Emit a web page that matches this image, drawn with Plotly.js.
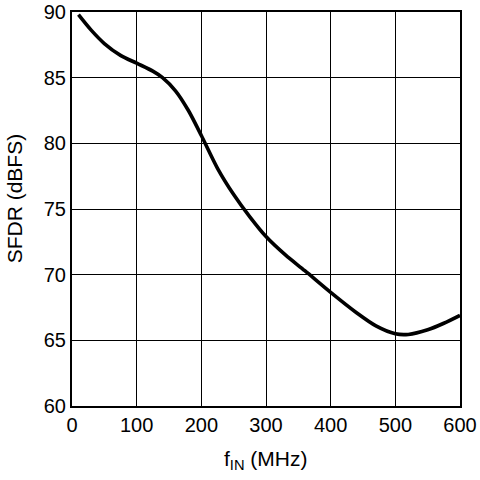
<!DOCTYPE html>
<html>
<head>
<meta charset="utf-8">
<script src="https://cdn.plot.ly/plotly-3.0.1.min.js"></script>
<style>html,body{margin:0;padding:0;background:#fff;}#chart{width:480px;height:480px;}</style>
</head>
<body>
<div id="chart"></div>
<script>
const freqMHz = [10, 30, 50, 75, 100, 125, 140, 160, 180, 200, 225, 250, 275, 300, 330, 360, 400, 440, 470, 500, 520, 550, 575, 600];
const sfdrDbfs = [89.8, 88.6, 87.6, 86.7, 86.1, 85.5, 85.0, 84.0, 82.5, 80.6, 78.1, 76.1, 74.4, 72.9, 71.5, 70.3, 68.65, 67.1, 66.1, 65.5, 65.45, 65.8, 66.3, 66.9];
const xTicks = [0, 100, 200, 300, 400, 500, 600];
const yTicks = [60, 65, 70, 75, 80, 85, 90];
const xTitle = 'f<sub>IN</sub> (MHz)';
const yTitle = 'SFDR (dBFS)';

const font = {family: 'Liberation Sans, Arial, sans-serif', size: 20, color: '#000'};
const titleFont = {family: 'Liberation Sans, Arial, sans-serif', size: 21, color: '#000'};

Plotly.newPlot('chart', [{
  x: freqMHz, y: sfdrDbfs, type: 'scatter', mode: 'lines',
  line: {color: '#000', width: 3.6, shape: 'spline', smoothing: 0.8}
}], {
  width: 480, height: 480,
  margin: {l: 72, r: 20, t: 12, b: 74},
  paper_bgcolor: '#fff', plot_bgcolor: '#fff',
  font: font,
  showlegend: false,
  xaxis: {
    range: [0, 600], tickvals: xTicks, ticktext: xTicks.map(String),
    showgrid: true, gridcolor: '#000', gridwidth: 1,
    showline: true, linecolor: '#000', linewidth: 2, mirror: true,
    ticks: '', zeroline: false, tickfont: font
  },
  yaxis: {
    range: [60, 90], tickvals: yTicks, ticktext: yTicks.map(String),
    showgrid: true, gridcolor: '#000', gridwidth: 1,
    showline: true, linecolor: '#000', linewidth: 2, mirror: true,
    ticks: '', zeroline: false, tickfont: font
  },
  annotations: [
    {text: xTitle, xref: 'paper', yref: 'paper', x: 0.5, y: -0.137,
     xanchor: 'center', yanchor: 'middle', showarrow: false, font: titleFont},
    {text: yTitle, xref: 'paper', yref: 'paper', x: -0.146, y: 0.528,
     xanchor: 'center', yanchor: 'middle', showarrow: false, textangle: -90, font: titleFont}
  ]
}, {displayModeBar: false, staticPlot: true});
</script>
</body>
</html>
